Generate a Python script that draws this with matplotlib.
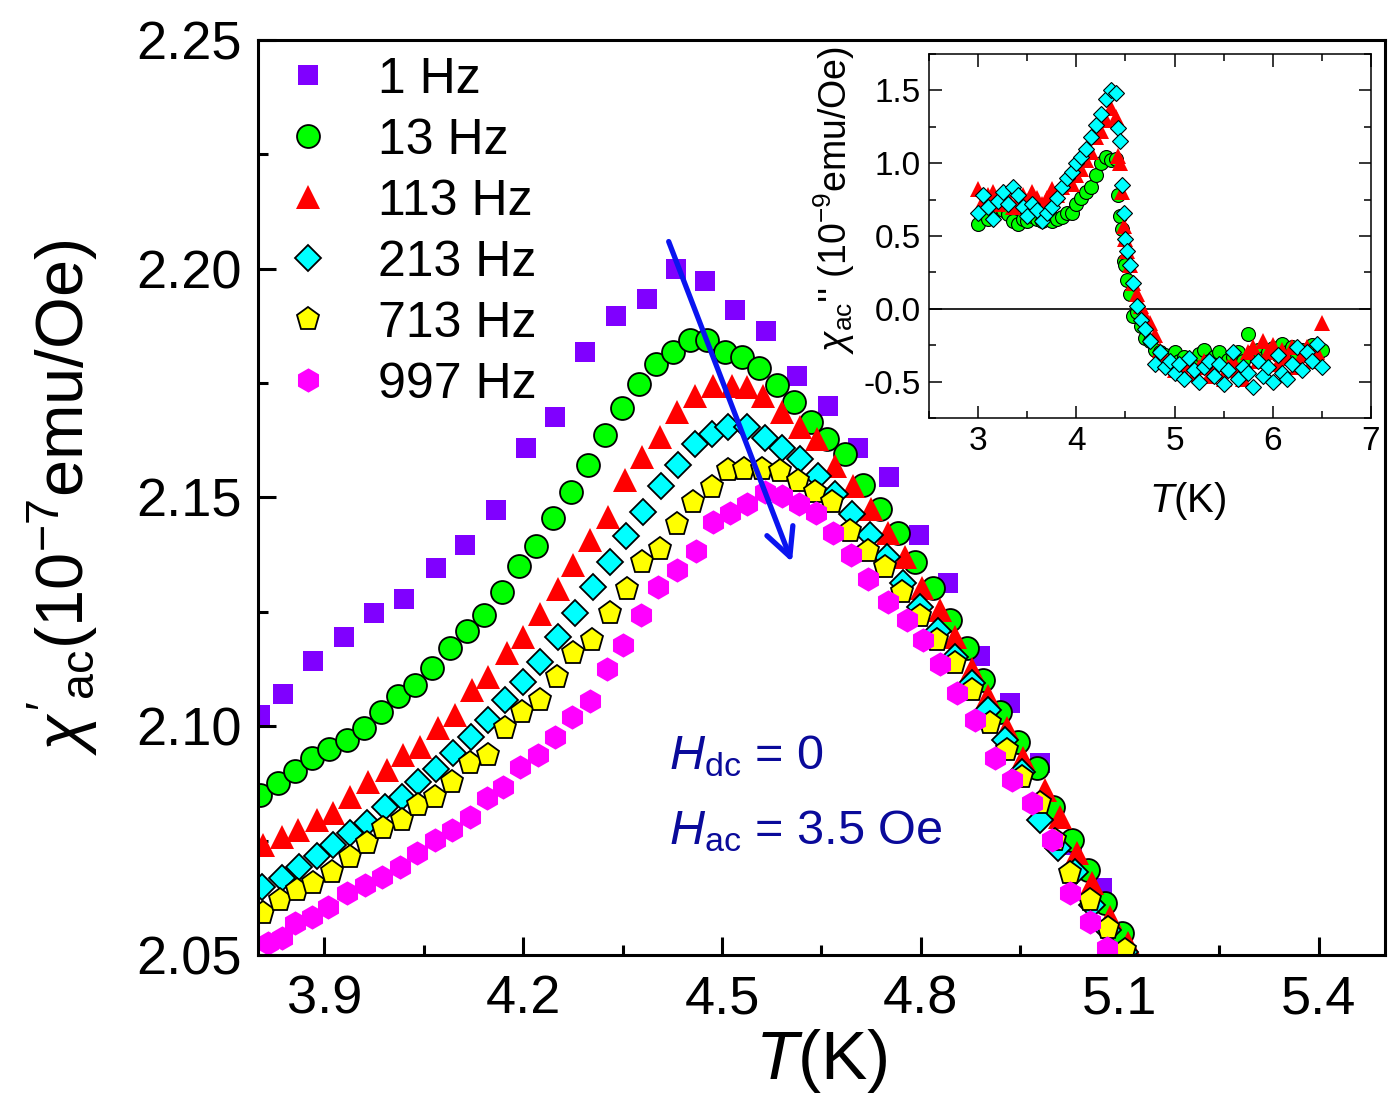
import matplotlib
matplotlib.use("Agg")
import matplotlib.pyplot as plt
from matplotlib.ticker import MultipleLocator

plt.rcParams['font.family'] = ['Liberation Sans', 'DejaVu Sans']
plt.rcParams['mathtext.fontset'] = 'custom'
plt.rcParams['mathtext.rm'] = 'Liberation Sans'
plt.rcParams['mathtext.it'] = 'Liberation Sans:italic'
plt.rcParams['axes.unicode_minus'] = False

# --- main panel: chi' vs T ---
t_1hz = [3.803, 3.838, 3.883, 3.930, 3.975, 4.020, 4.068, 4.112, 4.159, 4.204,
         4.248, 4.293, 4.340, 4.387, 4.430, 4.474, 4.519, 4.566, 4.613, 4.660,
         4.705, 4.752, 4.797, 4.841, 4.889, 4.934, 4.979, 5.028, 5.073]
chi_1hz = [2.1025, 2.1071, 2.1143, 2.1194, 2.1248, 2.1277, 2.1345, 2.1395, 2.1472, 2.1607,
           2.1675, 2.1817, 2.1896, 2.1933, 2.1999, 2.1973, 2.1909, 2.1863, 2.1765, 2.1699,
           2.1609, 2.1544, 2.1419, 2.1314, 2.1154, 2.1051, 2.0920, 2.0741, 2.0647]

t_13hz = [3.803, 3.830, 3.856, 3.881, 3.907, 3.934, 3.960, 3.986, 4.011, 4.037,
          4.062, 4.090, 4.115, 4.141, 4.168, 4.194, 4.219, 4.245, 4.272, 4.298,
          4.323, 4.349, 4.375, 4.400, 4.426, 4.452, 4.477, 4.504, 4.530, 4.556,
          4.583, 4.608, 4.634, 4.658, 4.685, 4.713, 4.738, 4.765, 4.791, 4.818,
          4.844, 4.869, 4.894, 4.919, 4.946, 4.975, 4.999, 5.028, 5.052, 5.078, 5.103]
chi_13hz = [2.0850, 2.0876, 2.0903, 2.0931, 2.0951, 2.0970, 2.0997, 2.1032, 2.1065, 2.1091,
            2.1128, 2.1170, 2.1209, 2.1242, 2.1294, 2.1351, 2.1393, 2.1456, 2.1513, 2.1570,
            2.1636, 2.1695, 2.1747, 2.1791, 2.1817, 2.1844, 2.1844, 2.1819, 2.1806, 2.1782,
            2.1745, 2.1708, 2.1664, 2.1627, 2.1594, 2.1528, 2.1474, 2.1423, 2.1360, 2.1303,
            2.1233, 2.1172, 2.1102, 2.1032, 2.0966, 2.0909, 2.0824, 2.0752, 2.0686, 2.0614, 2.0548]

t_113hz = [3.808, 3.836, 3.860, 3.889, 3.913, 3.939, 3.966, 3.995, 4.019, 4.044,
           4.072, 4.097, 4.123, 4.147, 4.176, 4.200, 4.225, 4.253, 4.275, 4.301,
           4.328, 4.354, 4.379, 4.406, 4.432, 4.459, 4.486, 4.515, 4.538, 4.562,
           4.590, 4.618, 4.643, 4.670, 4.697, 4.725, 4.750, 4.776, 4.802, 4.829,
           4.851, 4.877, 4.901, 4.930, 4.954, 4.987, 5.010, 5.035, 5.058, 5.085, 5.112]
chi_113hz = [2.0741, 2.0758, 2.0774, 2.0795, 2.0811, 2.0846, 2.0879, 2.0905, 2.0938, 2.0955,
             2.0997, 2.1025, 2.1080, 2.1108, 2.1161, 2.1194, 2.1246, 2.1299, 2.1353, 2.1408,
             2.1458, 2.1539, 2.1588, 2.1633, 2.1686, 2.1721, 2.1743, 2.1743, 2.1741, 2.1721,
             2.1686, 2.1653, 2.1627, 2.1568, 2.1524, 2.1474, 2.1423, 2.1369, 2.1303, 2.1255,
             2.1196, 2.1124, 2.1065, 2.0997, 2.0931, 2.0861, 2.0802, 2.0723, 2.0658, 2.0583, 2.0526]

t_213hz = [3.806, 3.836, 3.862, 3.889, 3.913, 3.939, 3.964, 3.992, 4.017, 4.041,
           4.068, 4.094, 4.121, 4.147, 4.173, 4.200, 4.225, 4.253, 4.278, 4.305,
           4.331, 4.355, 4.381, 4.408, 4.433, 4.459, 4.485, 4.509, 4.538, 4.565,
           4.590, 4.618, 4.645, 4.670, 4.696, 4.723, 4.749, 4.773, 4.799, 4.826,
           4.851, 4.877, 4.901, 4.927, 4.952, 4.980, 5.007, 5.032, 5.058, 5.082, 5.108]
chi_213hz = [2.0649, 2.0668, 2.0693, 2.0717, 2.0741, 2.0767, 2.0789, 2.0824, 2.0846, 2.0879,
             2.0907, 2.0942, 2.0977, 2.1014, 2.1058, 2.1097, 2.1141, 2.1194, 2.1248, 2.1305,
             2.1358, 2.1415, 2.1469, 2.1526, 2.1572, 2.1616, 2.1638, 2.1653, 2.1653, 2.1631,
             2.1609, 2.1583, 2.1546, 2.1507, 2.1463, 2.1419, 2.1369, 2.1314, 2.1261, 2.1207,
             2.1152, 2.1095, 2.1036, 2.0970, 2.0900, 2.0795, 2.0734, 2.0682, 2.0609, 2.0555, 2.0507]

t_713hz = [3.808, 3.833, 3.859, 3.883, 3.912, 3.939, 3.964, 3.989, 4.017, 4.041,
           4.067, 4.093, 4.120, 4.147, 4.173, 4.198, 4.225, 4.251, 4.275, 4.304,
           4.331, 4.357, 4.379, 4.406, 4.432, 4.456, 4.485, 4.509, 4.533, 4.560,
           4.587, 4.614, 4.640, 4.666, 4.693, 4.720, 4.746, 4.771, 4.799, 4.824,
           4.851, 4.877, 4.904, 4.930, 4.952, 4.980, 5.002, 5.025, 5.055, 5.082, 5.108]
chi_713hz = [2.0592, 2.0620, 2.0642, 2.0658, 2.0682, 2.0714, 2.0745, 2.0778, 2.0795, 2.0828,
             2.0846, 2.0879, 2.0920, 2.0938, 2.0997, 2.1032, 2.1058, 2.1108, 2.1161, 2.1189,
             2.1248, 2.1299, 2.1358, 2.1388, 2.1443, 2.1491, 2.1522, 2.1561, 2.1563, 2.1563,
             2.1557, 2.1535, 2.1511, 2.1489, 2.1426, 2.1382, 2.1349, 2.1294, 2.1240, 2.1189,
             2.1139, 2.1080, 2.1008, 2.0949, 2.0889, 2.0833, 2.0752, 2.0679, 2.0620, 2.0559, 2.0511]

t_997hz = [3.815, 3.836, 3.856, 3.881, 3.906, 3.934, 3.961, 3.987, 4.014, 4.040,
           4.067, 4.093, 4.120, 4.145, 4.170, 4.195, 4.222, 4.248, 4.274, 4.301,
           4.326, 4.351, 4.378, 4.403, 4.432, 4.461, 4.486, 4.512, 4.538, 4.565,
           4.590, 4.616, 4.642, 4.667, 4.694, 4.720, 4.750, 4.779, 4.803, 4.829,
           4.854, 4.881, 4.912, 4.937, 4.967, 4.998, 5.025, 5.055, 5.081]
chi_997hz = [2.0526, 2.0537, 2.0570, 2.0583, 2.0605, 2.0636, 2.0653, 2.0671, 2.0693, 2.0723,
             2.0752, 2.0774, 2.0802, 2.0844, 2.0868, 2.0911, 2.0938, 2.0977, 2.1021, 2.1054,
             2.1124, 2.1178, 2.1244, 2.1305, 2.1342, 2.1382, 2.1447, 2.1467, 2.1485, 2.1511,
             2.1504, 2.1485, 2.1467, 2.1423, 2.1375, 2.1321, 2.1272, 2.1233, 2.1189, 2.1135,
             2.1073, 2.1014, 2.0931, 2.0883, 2.0833, 2.0752, 2.0636, 2.0572, 2.0515]

# --- inset: chi'' vs T ---
t_inset = [3.00, 3.05, 3.10, 3.15, 3.20, 3.25, 3.30, 3.35, 3.40, 3.45,
           3.50, 3.55, 3.60, 3.65, 3.70, 3.75, 3.80, 3.85, 3.90, 3.95,
           4.00, 4.05, 4.10, 4.15, 4.20, 4.25, 4.30, 4.35, 4.40,
           4.42, 4.44, 4.46, 4.48, 4.50, 4.52, 4.55, 4.58, 4.62, 4.66, 4.70,
           4.75, 4.80, 4.85, 4.90, 4.95, 5.00, 5.05, 5.10, 5.15, 5.20,
           5.25, 5.30, 5.35, 5.40, 5.45, 5.50, 5.55, 5.60, 5.65, 5.70,
           5.75, 5.80, 5.85, 5.90, 5.95, 6.00, 6.05, 6.10, 6.15, 6.20,
           6.25, 6.30, 6.35, 6.40, 6.45, 6.50]
chi2_13hz = [0.58, 0.66, 0.62, 0.70, 0.72, 0.68, 0.65, 0.60, 0.58, 0.62,
             0.60, 0.64, 0.62, 0.60, 0.63, 0.60, 0.62, 0.63, 0.66, 0.66,
             0.72, 0.76, 0.80, 0.84, 0.92, 1.00, 1.04, 1.02, 1.03,
             0.78, 0.64, 0.55, 0.33, 0.30, 0.20, 0.10, -0.05, -0.02, -0.12, -0.20,
             -0.22, -0.28, -0.30, -0.32, -0.34, -0.30, -0.36, -0.33, -0.38, -0.35,
             -0.31, -0.28, -0.36, -0.33, -0.30, -0.38, -0.35, -0.33, -0.30, -0.36,
             -0.17, -0.30, -0.28, -0.34, -0.30, -0.27, -0.32, -0.24, -0.30, -0.26,
             -0.33, -0.28, -0.30, -0.25, -0.32, -0.28]
chi2_113hz = [0.82, 0.74, 0.78, 0.80, 0.72, 0.80, 0.76, 0.70, 0.74, 0.78,
              0.74, 0.80, 0.76, 0.72, 0.76, 0.82, 0.78, 0.84, 0.88, 0.86,
              0.92, 0.96, 1.02, 1.08, 1.18, 1.22, 1.30, 1.38, 1.32,
              1.05, 1.00, 0.80, 0.57, 0.48, 0.40, 0.30, 0.18, 0.10, 0.02, -0.05,
              -0.10, -0.18, -0.28, -0.34, -0.38, -0.42, -0.40, -0.44, -0.38, -0.45,
              -0.40, -0.36, -0.46, -0.42, -0.38, -0.48, -0.40, -0.36, -0.42, -0.48,
              -0.30, -0.26, -0.36, -0.22, -0.30, -0.25, -0.38, -0.28, -0.34, -0.26,
              -0.40, -0.32, -0.26, -0.36, -0.30, -0.10]
chi2_213hz = [0.66, 0.78, 0.70, 0.62, 0.74, 0.80, 0.72, 0.84, 0.78, 0.70,
              0.64, 0.72, 0.68, 0.60, 0.66, 0.70, 0.76, 0.84, 0.90, 0.94,
              1.00, 1.04, 1.10, 1.18, 1.26, 1.34, 1.44, 1.50, 1.48,
              1.24, 1.15, 0.85, 0.66, 0.48, 0.40, 0.30, 0.18, 0.02, -0.08, -0.14,
              -0.22, -0.38, -0.30, -0.40, -0.36, -0.44, -0.38, -0.48, -0.34, -0.42,
              -0.50, -0.40, -0.36, -0.46, -0.38, -0.52, -0.42, -0.30, -0.48, -0.40,
              -0.44, -0.54, -0.36, -0.46, -0.40, -0.50, -0.32, -0.44, -0.48, -0.38,
              -0.26, -0.42, -0.30, -0.36, -0.24, -0.40]

labels = ['1 Hz', '13 Hz', '113 Hz', '213 Hz', '713 Hz', '997 Hz']

fig = plt.figure(figsize=(13.9, 11.19), dpi=100)
ax = fig.add_axes([0.1856, 0.1466, 0.8108, 0.8177])

ax.plot(t_1hz, chi_1hz, ls='none', marker='s', ms=15, mfc='#8000ff', mec='#8000ff', mew=0, label=labels[0])
ax.plot(t_13hz, chi_13hz, ls='none', marker='o', ms=16.5, mfc='#00ff00', mec='black', mew=1.3, label=labels[1])
ax.plot(t_113hz, chi_113hz, ls='none', marker='^', ms=17, mfc='#ff0000', mec='#ff0000', mew=0, label=labels[2])
ax.plot(t_213hz, chi_213hz, ls='none', marker='D', ms=13, mfc='#00ffff', mec='black', mew=1.3, label=labels[3])
ax.plot(t_713hz, chi_713hz, ls='none', marker='p', ms=17, mfc='#ffff00', mec='black', mew=1.3, label=labels[4])
ax.plot(t_997hz, chi_997hz, ls='none', marker='h', ms=17.5, mfc='#ff00ff', mec='#ff00ff', mew=0, label=labels[5])

ax.set_xlim(3.8, 5.5)
ax.set_ylim(2.05, 2.25)
ax.xaxis.set_minor_locator(MultipleLocator(0.15))
ax.yaxis.set_minor_locator(MultipleLocator(0.025))
ax.set_xticks([3.9, 4.2, 4.5, 4.8, 5.1, 5.4])
ax.set_xticklabels(['3.9', '4.2', '4.5', '4.8', '5.1', '5.4'])
ax.set_yticks([2.05, 2.10, 2.15, 2.20, 2.25])
ax.set_yticklabels(['2.05', '2.10', '2.15', '2.20', '2.25'])
ax.tick_params(which='both', direction='in', top=False, right=False, width=2.2)
ax.tick_params(which='major', length=13, labelsize=39)
ax.tick_params(which='minor', length=7)
ax.tick_params(axis='y', pad=12)
ax.tick_params(axis='x', pad=14)
for sp in ax.spines.values():
    sp.set_linewidth(2.2)

ax.set_xlabel(r'$T$(K)', fontsize=50, labelpad=2)
ax.set_ylabel(r"$\chi'_{\rm ac}$(10$^{-7}$emu/Oe)", fontsize=48, labelpad=26)

leg = ax.legend(loc='upper left', bbox_to_anchor=(0.0, 1.009), frameon=False, fontsize=36,
                handletextpad=0.9, labelspacing=0.3, borderaxespad=0.1, handlelength=1.0)

ax.annotate('', xy=(4.607, 2.1353), xytext=(4.418, 2.2065),
            arrowprops=dict(arrowstyle='->', color='#0a14f0', lw=3.8, mutation_scale=50))

ax.text(4.42, 2.0935, r'$H_{\rm dc}$ = 0', fontsize=35, color='#0a0a9a', ha='left', va='center')
ax.text(4.42, 2.077, r'$H_{\rm ac}$ = 3.5 Oe', fontsize=35, color='#0a0a9a', ha='left', va='center')

# inset
axi = fig.add_axes([0.6686, 0.6265, 0.3175, 0.3252])
axi.axhline(0, color='black', lw=1.2, zorder=1)
axi.plot(t_inset, chi2_13hz, ls='none', marker='o', ms=10, mfc='#00ff00', mec='black', mew=0.8)
axi.plot(t_inset, chi2_113hz, ls='none', marker='^', ms=11, mfc='#ff0000', mec='#ff0000', mew=0)
axi.plot(t_inset, chi2_213hz, ls='none', marker='D', ms=8, mfc='#00ffff', mec='black', mew=0.8)
axi.set_xlim(2.5, 7.0)
axi.set_ylim(-0.75, 1.75)
axi.xaxis.set_major_locator(MultipleLocator(1))
axi.xaxis.set_minor_locator(MultipleLocator(0.5))
axi.yaxis.set_major_locator(MultipleLocator(0.5))
axi.yaxis.set_minor_locator(MultipleLocator(0.25))
axi.tick_params(which='both', direction='in', top=True, right=True, width=1.1)
axi.tick_params(which='major', length=9, labelsize=24, pad=6)
axi.tick_params(which='minor', length=5)
for sp in axi.spines.values():
    sp.set_linewidth(1.1)
axi.set_xlabel(r'$T$(K)', fontsize=29)
axi.xaxis.set_label_coords(0.585, -0.17)
axi.set_ylabel(r"$\chi_{\rm ac}$'' (10$^{-9}$emu/Oe)", fontsize=27)
axi.yaxis.set_label_coords(-0.165, 0.6)

fig.savefig('out.png', dpi=100)
